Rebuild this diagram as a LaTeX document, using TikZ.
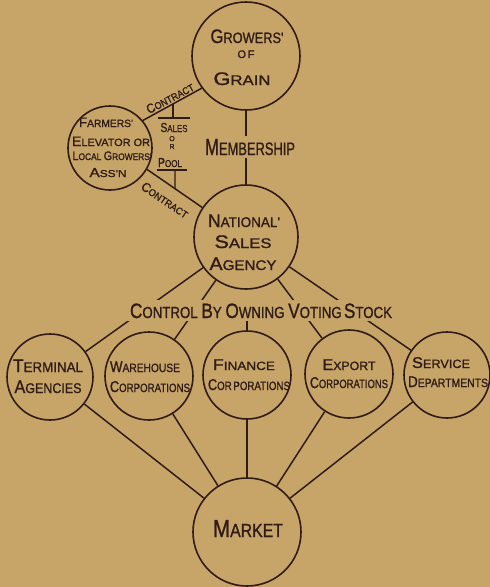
\documentclass[tikz,border=0pt]{standalone}
\usepackage{fontspec}
\usepackage{graphicx}
\newfontfamily\hand[FakeBold=1.2]{Liberation Sans}
\definecolor{bg}{RGB}{199,165,104}
\definecolor{ink}{RGB}{48,28,22}
\newcommand\Ini[1]{\scalebox{1.3}{#1}}
\newcommand\Fit[2]{\resizebox{#1pt}{\height}{#2}}
\newcommand\Fs[1]{\fontsize{#1}{#1}\selectfont}
\begin{document}
\begin{tikzpicture}[x=1pt,y=-1pt,
  ring/.style={circle,draw=ink,line width=1.6pt,inner sep=0pt,minimum size=#1},
  lbl/.style={inner sep=0pt,anchor=base,text=ink,font=\hand},
  conn/.style={draw=ink,line width=1.5pt},
  thin/.style={draw=ink,line width=1.2pt},
  mask/.style={fill=bg,inner sep=3pt}]
\useasboundingbox (0,0) rectangle (490,587);
\fill[bg] (0,0) rectangle (490,587);
% circles
\node[ring=108pt] (grow) at (246,56) {};
\node[ring=84pt] (farm) at (110,148) {};
\node[ring=104pt] (nsa) at (246,237) {};
\node[ring=86pt] (term) at (50,377) {};
\node[ring=88pt] (ware) at (149,376) {};
\node[ring=88pt] (fin) at (247,375) {};
\node[ring=88pt] (exp) at (349,374) {};
\node[ring=86pt] (serv) at (447,375) {};
\node[ring=108pt] (mkt) at (247,532) {};
% connectors
\coordinate (a1) at (farm.40);
\coordinate (a2) at (grow.216);
\coordinate (b1) at (farm.-30);
\coordinate (b2) at (nsa.146);
\draw[conn] (a1) -- (a2);
\draw[conn] (b1) -- (b2);
\draw[conn] (grow) -- (nsa);
\foreach \n in {term,ware,exp,serv} \draw[conn] (nsa) -- (\n);
\foreach \n in {term,ware,fin,exp,serv} \draw[conn] (\n) -- (mkt);
% sales or pool
\coordinate (s1a) at (173,80);
\coordinate (s1b) at (173,130);
\coordinate (j1) at (intersection of a1--a2 and s1a--s1b);
\coordinate (bar1) at (158,118);
\coordinate (bar2) at (190,118);
\draw[thin] (bar1) -- (bar2);
\draw[thin] (j1) -- (j1 |- bar1);
\coordinate (pl1) at (157,170);
\coordinate (pl2) at (187,170);
\coordinate (k1) at (175,170);
\coordinate (k2) at (175,230);
\coordinate (j2) at (intersection of b1--b2 and k1--k2);
\draw[thin] (pl1) -- (pl2);
\draw[thin] (k1) -- (j2);
% texts
\node[lbl] (g1) at (247,43) {\Fs{15}\Fit{73}{\Ini{G}ROWERS'}};
\node[lbl] (g2) at (246,58) {\Fs{11}\Fit{17}{O\,F}};
\node[lbl] (g3) at (242,85) {\Fs{14}\Fit{57}{\Ini{G}RAIN}};
\node[lbl] (f1) at (106,127) {\Fs{10.5}\Fit{54}{\Ini{F}ARMERS'}};
\node[lbl] (f2) at (111,146) {\Fs{10.5}\Fit{78}{\Ini{E}LEVATOR OR}};
\node[lbl] (f3) at (112,160) {\Fs{9.5}\Fit{79}{\Ini{L}OCAL \Ini{G}ROWERS'}};
\node[lbl] (f4) at (108,177) {\Fs{10}\Fit{37}{\Ini{A}SS'N}};
\node[lbl] (s1) at (174,132) {\Fs{10}\Fit{27}{\Ini{S}ALES}};
\node[lbl] (s2) at (172,141) {\Fs{7}O};
\node[lbl] (s3) at (172,149) {\Fs{7}R};
\node[lbl] (s4) at (170,167) {\Fs{10}\Fit{24}{\Ini{P}OOL}};
\node[lbl,anchor=center,rotate=28] (c1) at (170,98) {\Fs{10}\Fit{52}{\Ini{C}ONTRACT}};
\node[lbl,anchor=center,rotate=-34] (c2) at (165,200) {\Fs{10}\Fit{54}{\Ini{C}ONTRACT}};
\node[lbl,mask] (mem) at (250,155) {\Fs{18}\Fit{90}{\Ini{M}EMBERSHIP}};
\node[lbl] (n1) at (244,227) {\Fs{14}\Fit{72}{\Ini{N}ATIONAL'}};
\node[lbl] (n2) at (243,248) {\Fs{14}\Fit{57}{\Ini{S}ALES}};
\node[lbl] (n3) at (243,270) {\Fs{14}\Fit{67}{\Ini{A}GENCY}};
\node[lbl,mask] (ctrl) at (261,318) {\Fs{16}\Fit{262}{\Ini{C}ONTROL \Ini{B}Y \Ini{O}WNING \Ini{V}OTING\,\Ini{S}TOCK}};
\draw[conn] (fin.north |- ctrl.south) -- (fin);
\node[lbl] (t1) at (48,372) {\Fs{14}\Fit{70}{\Ini{T}ERMINAL}};
\node[lbl] (t2) at (48,393) {\Fs{14}\Fit{67}{\Ini{A}GENCIES}};
\node[lbl] (w1) at (145,372) {\Fs{12}\Fit{70}{\Ini{W}AREHOUSE}};
\node[lbl] (w2) at (150,392) {\Fs{12}\Fit{80}{\Ini{C}ORPORATIONS}};
\node[lbl] (fi1) at (244,370) {\Fs{12}\Fit{62}{\Ini{F}INANCE}};
\node[lbl] (fi2) at (249,390) {\Fs{12}\Fit{82}{\Ini{C}OR\,PORATIONS}};
\node[lbl] (e1) at (349,370) {\Fs{12}\Fit{53}{\Ini{E}XPORT}};
\node[lbl] (e2) at (349,388) {\Fs{12}\Fit{78}{\Ini{C}ORPORATIONS}};
\node[lbl] (sv1) at (441,368) {\Fs{12}\Fit{58}{\Ini{S}ERVICE}};
\node[lbl] (sv2) at (448,387) {\Fs{12}\Fit{80}{\Ini{D}EPARTMENTS}};
\node[lbl] (m1) at (248,537) {\Fs{19}\Fit{70}{\Ini{M}ARKET}};
\end{tikzpicture}
\end{document}
